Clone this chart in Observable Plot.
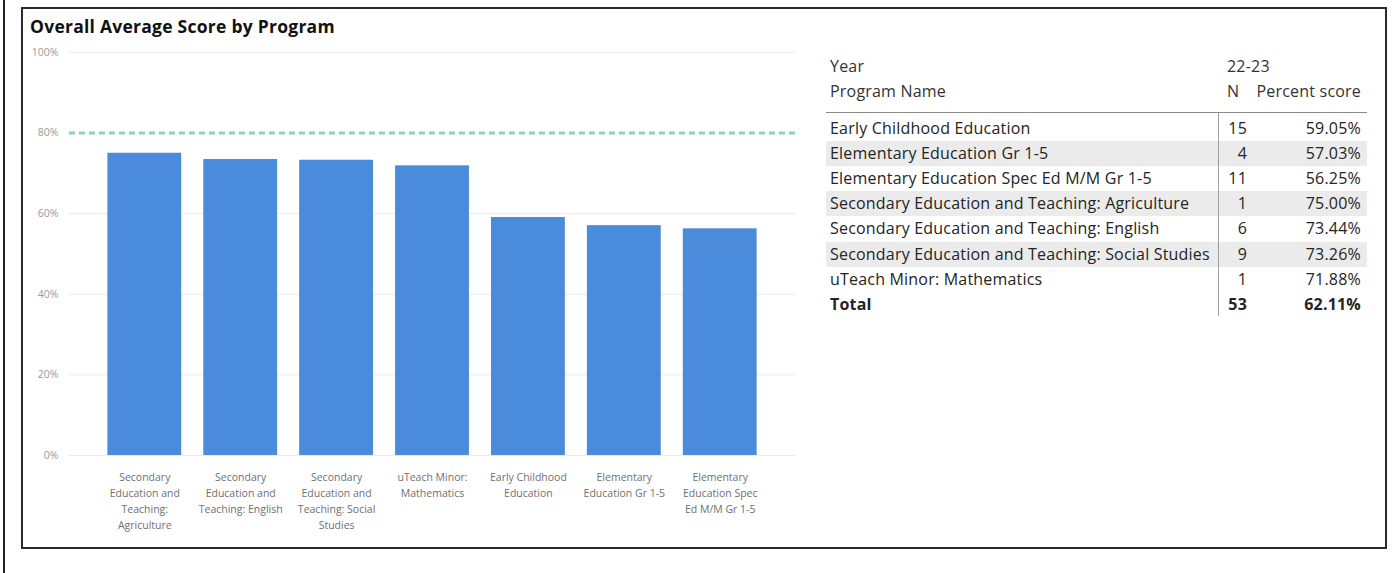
<!DOCTYPE html>
<html><head><meta charset="utf-8">
<script src="https://cdn.jsdelivr.net/npm/d3@7"></script>
<script src="https://cdn.jsdelivr.net/npm/@observablehq/plot@0.6"></script>
<style>
body{margin:0;width:1400px;height:573px;position:relative;background:#fff;font-family:"Open Sans","Noto Sans",sans-serif;overflow:hidden}
#outer{position:absolute;left:3px;top:0;width:2px;height:573px;background:#222}
#frame{position:absolute;left:21px;top:7px;width:1366px;height:542px;border:2px solid #2a2a2a;box-sizing:border-box}
#title{position:absolute;left:30px;top:14px;font-weight:700;font-size:17.5px;letter-spacing:0.25px;color:#111;line-height:24px;white-space:nowrap}
#chart{position:absolute;left:22px;top:40px}
#table{position:absolute;left:826px;top:0;width:541px;height:330px;color:#252423;font-size:16px;letter-spacing:0.2px}
.cell{position:absolute;white-space:nowrap;line-height:25px;height:25px}
.band{position:absolute;left:0;width:541px;height:25px;background:#ebebeb}
</style></head>
<body>
<div id="outer"></div>
<div id="frame"></div>
<div id="title">Overall Average Score by Program</div>
<div id="chart"></div>
<div id="table"></div>
<script>
// Data
const programs = [
  "Early Childhood Education",
  "Elementary Education Gr 1-5",
  "Elementary Education Spec Ed M/M Gr 1-5",
  "Secondary Education and Teaching: Agriculture",
  "Secondary Education and Teaching: English",
  "Secondary Education and Teaching: Social Studies",
  "uTeach Minor: Mathematics"
];
const counts = [15, 4, 11, 1, 6, 9, 1];
const percents = [59.05, 57.03, 56.25, 75.00, 73.44, 73.26, 71.88];
const wrappedLabels = [
  "Early Childhood\nEducation",
  "Elementary\nEducation Gr 1-5",
  "Elementary\nEducation Spec\nEd M/M Gr 1-5",
  "Secondary\nEducation and\nTeaching:\nAgriculture",
  "Secondary\nEducation and\nTeaching: English",
  "Secondary\nEducation and\nTeaching: Social\nStudies",
  "uTeach Minor:\nMathematics"
];
const yTicks = [0, 20, 40, 60, 80, 100];
const targetLine = [80];
const totalN = 53;
const totalPct = 62.11;
const yearLabel = "22-23";

const data = programs.map((p, i) => ({program: p, n: counts[i], pct: percents[i]}));
const labelOf = Object.fromEntries(programs.map((p, i) => [p, wrappedLabels[i]]));
const order = data.slice().sort((a, b) => b.pct - a.pct).map(d => d.program);

const chart = Plot.plot({
  width: 790, height: 500,
  marginLeft: 47, marginRight: 17, marginTop: 12, marginBottom: 85,
  style: {fontFamily: '"Open Sans","Noto Sans",sans-serif', background: "transparent", overflow: "visible"},
  x: {domain: order, paddingInner: 0.23, paddingOuter: 0.4, round: false, label: null},
  y: {domain: [0, 100], label: null},
  marks: [
    Plot.gridY(yTicks, {stroke: "#ebebeb", strokeOpacity: 1, strokeWidth: 1}),
    Plot.barY(data, {x: "program", y: "pct", fill: "#4a8bdb"}),
    Plot.ruleY(targetLine, {stroke: "#8fd2bd", strokeWidth: 3, strokeDasharray: "6,4"}),
    Plot.axisY(yTicks, {tickSize: 0, tickPadding: 11, tickFormat: d => d + "%", fill: "#9a9a9a", fontSize: 10.5, label: null}),
    Plot.axisX({tickSize: 0, tickPadding: 14, tickFormat: d => labelOf[d], fill: "#6f6f6f", fontSize: 10.5, lineHeight: 1.524, label: null})
  ]
});
document.getElementById("chart").appendChild(chart);

// Table
const T = document.getElementById("table");
function cell(text, left, top, opts = {}) {
  const d = document.createElement("div");
  d.className = "cell";
  d.textContent = text;
  d.style.top = top + "px";
  if (opts.right != null) { d.style.right = opts.right + "px"; d.style.textAlign = "right"; }
  else d.style.left = left + "px";
  if (opts.bold) d.style.fontWeight = "700";
  if (opts.color) d.style.color = opts.color;
  T.appendChild(d);
}
const rowH = 25.1, rowTop0 = 116;
programs.forEach((p, i) => {
  if (i % 2 === 1) {
    const b = document.createElement("div");
    b.className = "band";
    b.style.top = (rowTop0 + i * rowH) + "px";
    T.appendChild(b);
  }
});
cell("Year", 4, 53.5, {color: "#333"});
cell(yearLabel, 401, 53.5, {color: "#333"});
cell("Program Name", 4, 78.5, {color: "#333"});
cell("N", 401, 78.5, {color: "#333"});
cell("Percent score", 0, 78.5, {right: 6, color: "#333"});
const hl = document.createElement("div");
hl.style.cssText = "position:absolute;left:0;top:112px;width:541px;height:1px;background:#8a8a8a";
T.appendChild(hl);
const vl = document.createElement("div");
vl.style.cssText = "position:absolute;left:392px;top:113px;width:1px;height:203px;background:#a0a0a0";
T.appendChild(vl);
data.forEach((d, i) => {
  const top = rowTop0 + i * rowH;
  cell(d.program, 4, top);
  cell(String(d.n), 0, top, {right: 120});
  cell(d.pct.toFixed(2) + "%", 0, top, {right: 6});
});
const tt = rowTop0 + programs.length * rowH;
cell("Total", 4, tt, {bold: true});
cell(String(totalN), 0, tt, {right: 120, bold: true});
cell(totalPct.toFixed(2) + "%", 0, tt, {right: 6, bold: true});
</script>
</body></html>
